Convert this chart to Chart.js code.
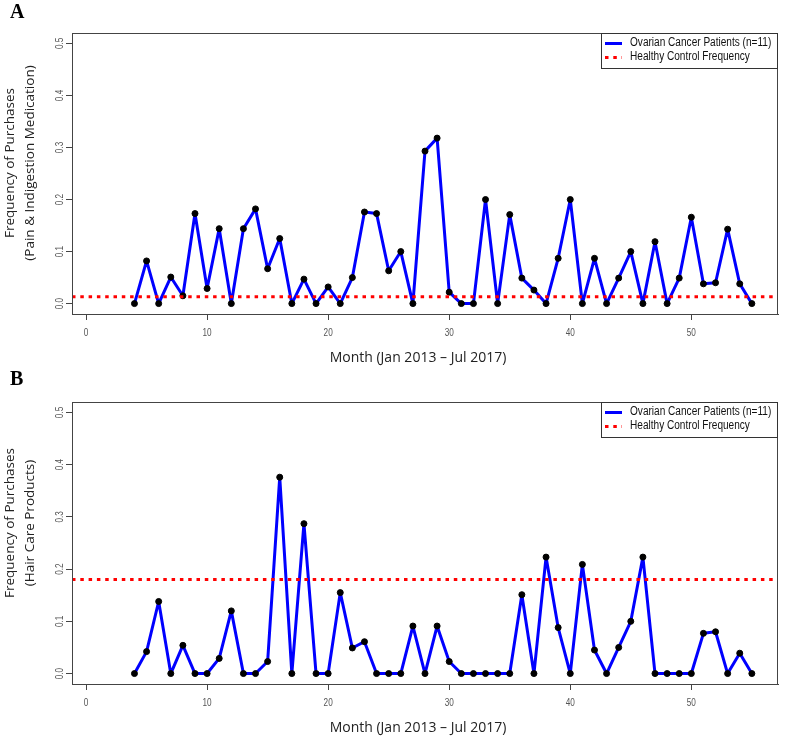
<!DOCTYPE html>
<html lang="en">
<head>
<meta charset="utf-8">
<title>Frequency of Purchases</title>
<script src="https://cdn.jsdelivr.net/npm/chart.js@4.4.1/dist/chart.umd.min.js"></script>
<style>
  html, body { margin: 0; padding: 0; background: #fff; }
  .panel { position: absolute; left: 0; }
  #panelA { top: 0; }
  #panelB { top: 368px; }
</style>
</head>
<body>
<canvas id="panelA" class="panel" width="786" height="368"></canvas>
<canvas id="panelB" class="panel" width="786" height="368"></canvas>

<script>
// month index (Jan 2013 = 1)
const months = [4, 5, 6, 7, 8, 9, 10, 11, 12, 13, 14, 15, 16, 17, 18, 19, 20, 21, 22, 23, 24, 25, 26, 27,
  28, 29, 30, 31, 32, 33, 34, 35, 36, 37, 38, 39, 40, 41, 42, 43, 44, 45, 46, 47, 48, 49, 50, 51, 52, 53, 54, 55];

// A: pain & indigestion medication
const painMedication = [0, 0.082, 0, 0.051, 0.015, 0.173, 0.029, 0.144, 0, 0.144, 0.182, 0.067, 0.125, 0,
  0.047, 0, 0.032, 0, 0.050, 0.176, 0.173, 0.063, 0.100, 0, 0.293, 0.318, 0.022, 0, 0, 0.200, 0, 0.171,
  0.049, 0.026, 0, 0.087, 0.200, 0, 0.087, 0, 0.049, 0.100, 0, 0.119, 0, 0.049, 0.166, 0.038, 0.040,
  0.143, 0.038, 0];

// B: hair care products
const hairCare = [0, 0.042, 0.138, 0, 0.054, 0, 0, 0.029, 0.120, 0, 0, 0.023, 0.376, 0, 0.287, 0, 0,
  0.155, 0.049, 0.061, 0, 0, 0, 0.091, 0, 0.091, 0.023, 0, 0, 0, 0, 0, 0.151, 0, 0.223, 0.088, 0,
  0.209, 0.045, 0, 0.050, 0.100, 0.223, 0, 0, 0, 0, 0.077, 0.080, 0, 0.039, 0];

// healthy control frequency
const controlPain = 0.013;
const controlHair = 0.180;

const xTickValues = [0, 10, 20, 30, 40, 50];
const yTickValues = [0, 0.1, 0.2, 0.3, 0.4, 0.5];

const legendLabels = ['Ovarian Cancer Patients (n=11)', 'Healthy Control Frequency'];
const xTitle = 'Month (Jan 2013 \u2013 Jul 2017)';

const X_MIN = -1.16, X_MAX = 57.16;
const Y_MIN = -0.02, Y_MAX = 0.52;

const arial = "'Liberation Sans', Arial, sans-serif";
const sans = "'Open Sans', 'Noto Sans', sans-serif";
const BLUE = '#0000ff', RED = '#ff0000', AXIS = '#444';

// draw text squeezed horizontally (R device uses a narrow face)
function squeezed(ctx, text, x, y, sx, rot) {
  ctx.save();
  ctx.translate(x, y);
  if (rot) ctx.rotate(rot);
  ctx.scale(sx, 1);
  ctx.fillText(text, 0, 0);
  ctx.restore();
}

// box, tick labels, legend, panel letter and axis titles
const decor = {
  id: 'decor',
  afterDraw(chart, args, o) {
    const ctx = chart.ctx, a = chart.chartArea;
    const xs = chart.scales.x, ys = chart.scales.y;
    ctx.save();
    ctx.strokeStyle = AXIS;
    ctx.lineWidth = 1;
    ctx.strokeRect(a.left + 0.5, a.top + 0.5, a.right - a.left - 1, a.bottom - a.top);

    // tick labels
    ctx.fillStyle = '#555';
    ctx.font = '10px ' + arial;
    ctx.textAlign = 'center';
    ctx.textBaseline = 'middle';
    xTickValues.forEach(v => squeezed(ctx, String(v), xs.getPixelForValue(v), a.bottom + 19, 0.82));
    yTickValues.forEach(v => squeezed(ctx, v.toFixed(1), 60, ys.getPixelForValue(v), 0.82, -Math.PI / 2));

    // legend
    const lx = 601, lt = a.top, lw = a.right - lx;
    ctx.fillStyle = '#fff';
    ctx.fillRect(lx, lt, lw, 35);
    ctx.strokeStyle = '#333';
    ctx.strokeRect(lx + 0.5, lt + 0.5, lw - 1, 35);
    ctx.lineWidth = 3;
    ctx.strokeStyle = BLUE;
    ctx.beginPath(); ctx.moveTo(605, lt + 10.5); ctx.lineTo(622, lt + 10.5); ctx.stroke();
    ctx.strokeStyle = RED;
    ctx.setLineDash([3.5, 4.8]);
    ctx.beginPath(); ctx.moveTo(605, lt + 24.5); ctx.lineTo(622, lt + 24.5); ctx.stroke();
    ctx.setLineDash([]);
    ctx.fillStyle = '#111';
    ctx.font = '12px ' + arial;
    ctx.textAlign = 'left';
    squeezed(ctx, legendLabels[0], 630, lt + 10, 0.84);
    squeezed(ctx, legendLabels[1], 630, lt + 24, 0.84);

    // panel letter
    ctx.font = 'bold 20px "Liberation Serif", serif';
    ctx.fillStyle = '#000';
    ctx.fillText(o.letter, 10, o.letterY);

    // axis titles
    ctx.fillStyle = '#222';
    ctx.font = '14px ' + sans;
    ctx.textAlign = 'center';
    ctx.fillText(xTitle, 418, a.bottom + 44);
    ctx.font = '13.5px ' + sans;
    o.yTitle.forEach((line, i) => squeezed(ctx, line, 10 + i * 20, o.yTitleY, 1, -Math.PI / 2));
    ctx.restore();
  }
};

function makePanel(id, values, control, opts) {
  return new Chart(document.getElementById(id), {
    type: 'line',
    data: {
      datasets: [
        {
          label: legendLabels[1],
          data: [{ x: X_MIN, y: control }, { x: X_MAX, y: control }],
          borderColor: RED,
          borderWidth: 3,
          borderDash: [3.5, 4.8],
          pointRadius: 0
        },
        {
          label: legendLabels[0],
          data: months.map((m, i) => ({ x: m, y: values[i] })),
          borderColor: BLUE,
          borderWidth: 3,
          borderJoinStyle: 'round',
          tension: 0,
          pointRadius: 3,
          pointBorderWidth: 1,
          pointBackgroundColor: '#000',
          pointBorderColor: '#000'
        }
      ]
    },
    options: {
      responsive: false,
      animation: false,
      layout: { padding: { top: opts.top, right: 8, left: 0, bottom: 0 } },
      plugins: {
        legend: { display: false },
        tooltip: { enabled: false },
        decor: opts
      },
      scales: {
        x: {
          type: 'linear',
          min: X_MIN,
          max: X_MAX,
          afterBuildTicks: s => { s.ticks = xTickValues.map(v => ({ value: v })); },
          afterFit: s => { s.height = opts.axisH; },
          ticks: { display: false },
          grid: { drawOnChartArea: false, drawTicks: true, tickLength: 6, color: AXIS },
          border: { color: AXIS }
        },
        y: {
          min: Y_MIN,
          max: Y_MAX,
          afterBuildTicks: s => { s.ticks = yTickValues.map(v => ({ value: v })); },
          afterFit: s => { s.width = 72; },
          ticks: { display: false },
          grid: { drawOnChartArea: false, drawTicks: true, tickLength: 6, color: AXIS },
          border: { color: AXIS }
        }
      }
    },
    plugins: [decor]
  });
}

makePanel('panelA', painMedication, controlPain, {
  top: 33, axisH: 54, letter: 'A', letterY: 13, yTitleY: 163,
  yTitle: ['Frequency of Purchases', '(Pain & Indigestion Medication)']
});
makePanel('panelB', hairCare, controlHair, {
  top: 34, axisH: 52, letter: 'B', letterY: 12, yTitleY: 155,
  yTitle: ['Frequency of Purchases', '(Hair Care Products)']
});
</script>
</body>
</html>
